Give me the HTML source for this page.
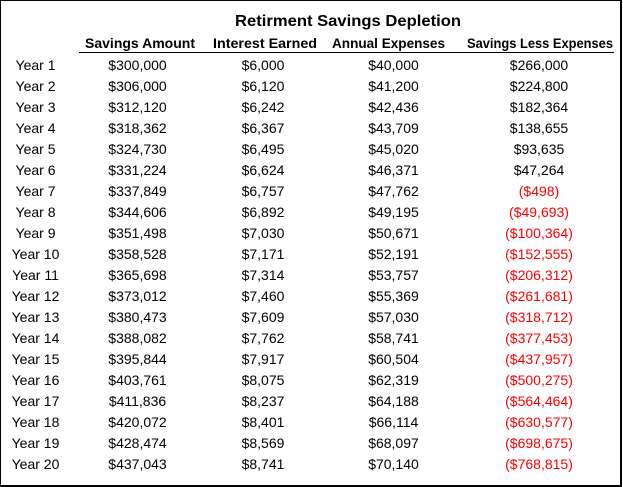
<!DOCTYPE html>
<html>
<head>
<meta charset="utf-8">
<style>
  html, body { margin: 0; padding: 0; background: #fff; }
  svg { display: block; }
  text { font-family: "Liberation Sans", sans-serif; }
  .d { font-size: 14px; fill: #000; text-anchor: middle; }
  .r { fill: #ff0000; }
  .h { font-size: 14px; font-weight: bold; fill: #000; text-anchor: middle; }
  .t { font-size: 16px; font-weight: bold; fill: #000; text-anchor: middle; }
</style>
</head>
<body>
<svg width="623" height="487" viewBox="0 0 623 487" xmlns="http://www.w3.org/2000/svg">
  <rect x="0" y="0" width="623" height="487" fill="#fff"/>
  <!-- border -->
  <rect x="0" y="0" width="621" height="1" fill="#000"/>
  <rect x="0" y="0" width="1" height="487" fill="#000"/>
  <rect x="620" y="0" width="2" height="487" fill="#000"/>
  <rect x="0" y="485" width="622" height="2" fill="#000"/>

  <!-- title -->
  <text class="t" x="348" y="26" textLength="226" lengthAdjust="spacingAndGlyphs">Retirment Savings Depletion</text>

  <!-- headers -->
  <text class="h" x="140" y="48" textLength="110" lengthAdjust="spacingAndGlyphs">Savings Amount</text>
  <text class="h" x="265" y="48" textLength="104" lengthAdjust="spacingAndGlyphs">Interest Earned</text>
  <text class="h" x="388.5" y="48" textLength="113" lengthAdjust="spacingAndGlyphs">Annual Expenses</text>
  <text class="h" x="540" y="48" textLength="146" lengthAdjust="spacingAndGlyphs">Savings Less Expenses</text>
  <rect x="79" y="52" width="535" height="1" fill="#000"/>

  <!-- rows -->
  <g>
    <text class="d" x="35.5" y="70">Year 1</text><text class="d" x="137.5" y="70">$300,000</text><text class="d" x="263" y="70">$6,000</text><text class="d" x="393.5" y="70">$40,000</text><text class="d" x="539" y="70">$266,000</text>
    <text class="d" x="35.5" y="91">Year 2</text><text class="d" x="137.5" y="91">$306,000</text><text class="d" x="263" y="91">$6,120</text><text class="d" x="393.5" y="91">$41,200</text><text class="d" x="539" y="91">$224,800</text>
    <text class="d" x="35.5" y="112">Year 3</text><text class="d" x="137.5" y="112">$312,120</text><text class="d" x="263" y="112">$6,242</text><text class="d" x="393.5" y="112">$42,436</text><text class="d" x="539" y="112">$182,364</text>
    <text class="d" x="35.5" y="133">Year 4</text><text class="d" x="137.5" y="133">$318,362</text><text class="d" x="263" y="133">$6,367</text><text class="d" x="393.5" y="133">$43,709</text><text class="d" x="539" y="133">$138,655</text>
    <text class="d" x="35.5" y="154">Year 5</text><text class="d" x="137.5" y="154">$324,730</text><text class="d" x="263" y="154">$6,495</text><text class="d" x="393.5" y="154">$45,020</text><text class="d" x="539" y="154">$93,635</text>
    <text class="d" x="35.5" y="175">Year 6</text><text class="d" x="137.5" y="175">$331,224</text><text class="d" x="263" y="175">$6,624</text><text class="d" x="393.5" y="175">$46,371</text><text class="d" x="539" y="175">$47,264</text>
    <text class="d" x="35.5" y="196">Year 7</text><text class="d" x="137.5" y="196">$337,849</text><text class="d" x="263" y="196">$6,757</text><text class="d" x="393.5" y="196">$47,762</text><text class="d r" x="539" y="196">($498)</text>
    <text class="d" x="35.5" y="217">Year 8</text><text class="d" x="137.5" y="217">$344,606</text><text class="d" x="263" y="217">$6,892</text><text class="d" x="393.5" y="217">$49,195</text><text class="d r" x="539" y="217">($49,693)</text>
    <text class="d" x="35.5" y="238">Year 9</text><text class="d" x="137.5" y="238">$351,498</text><text class="d" x="263" y="238">$7,030</text><text class="d" x="393.5" y="238">$50,671</text><text class="d r" x="539" y="238">($100,364)</text>
    <text class="d" x="35.5" y="259">Year 10</text><text class="d" x="137.5" y="259">$358,528</text><text class="d" x="263" y="259">$7,171</text><text class="d" x="393.5" y="259">$52,191</text><text class="d r" x="539" y="259">($152,555)</text>
    <text class="d" x="35.5" y="280">Year 11</text><text class="d" x="137.5" y="280">$365,698</text><text class="d" x="263" y="280">$7,314</text><text class="d" x="393.5" y="280">$53,757</text><text class="d r" x="539" y="280">($206,312)</text>
    <text class="d" x="35.5" y="301">Year 12</text><text class="d" x="137.5" y="301">$373,012</text><text class="d" x="263" y="301">$7,460</text><text class="d" x="393.5" y="301">$55,369</text><text class="d r" x="539" y="301">($261,681)</text>
    <text class="d" x="35.5" y="322">Year 13</text><text class="d" x="137.5" y="322">$380,473</text><text class="d" x="263" y="322">$7,609</text><text class="d" x="393.5" y="322">$57,030</text><text class="d r" x="539" y="322">($318,712)</text>
    <text class="d" x="35.5" y="343">Year 14</text><text class="d" x="137.5" y="343">$388,082</text><text class="d" x="263" y="343">$7,762</text><text class="d" x="393.5" y="343">$58,741</text><text class="d r" x="539" y="343">($377,453)</text>
    <text class="d" x="35.5" y="364">Year 15</text><text class="d" x="137.5" y="364">$395,844</text><text class="d" x="263" y="364">$7,917</text><text class="d" x="393.5" y="364">$60,504</text><text class="d r" x="539" y="364">($437,957)</text>
    <text class="d" x="35.5" y="385">Year 16</text><text class="d" x="137.5" y="385">$403,761</text><text class="d" x="263" y="385">$8,075</text><text class="d" x="393.5" y="385">$62,319</text><text class="d r" x="539" y="385">($500,275)</text>
    <text class="d" x="35.5" y="406">Year 17</text><text class="d" x="137.5" y="406">$411,836</text><text class="d" x="263" y="406">$8,237</text><text class="d" x="393.5" y="406">$64,188</text><text class="d r" x="539" y="406">($564,464)</text>
    <text class="d" x="35.5" y="427">Year 18</text><text class="d" x="137.5" y="427">$420,072</text><text class="d" x="263" y="427">$8,401</text><text class="d" x="393.5" y="427">$66,114</text><text class="d r" x="539" y="427">($630,577)</text>
    <text class="d" x="35.5" y="448">Year 19</text><text class="d" x="137.5" y="448">$428,474</text><text class="d" x="263" y="448">$8,569</text><text class="d" x="393.5" y="448">$68,097</text><text class="d r" x="539" y="448">($698,675)</text>
    <text class="d" x="35.5" y="469">Year 20</text><text class="d" x="137.5" y="469">$437,043</text><text class="d" x="263" y="469">$8,741</text><text class="d" x="393.5" y="469">$70,140</text><text class="d r" x="539" y="469">($768,815)</text>
  </g>
</svg>
</body>
</html>
